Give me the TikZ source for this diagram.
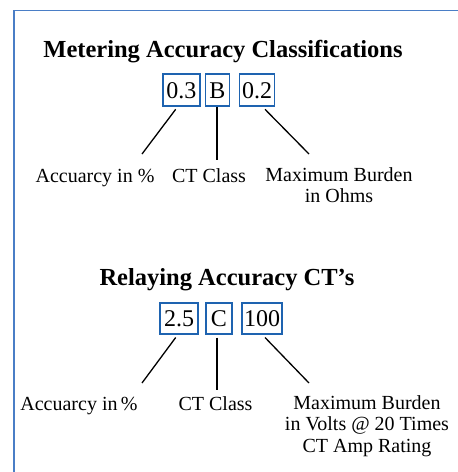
\documentclass[tikz,border=0pt]{standalone}
\usepackage{fontspec}
\setmainfont{Liberation Serif}
\definecolor{framec}{HTML}{4A7EC6}
\definecolor{boxc}{HTML}{1E63B0}
\begin{document}
\begin{tikzpicture}[x=1pt,y=-1pt,
  valbox/.style={draw=boxc,line width=1.6pt,inner sep=0pt,minimum height=32pt,
     font=\fontsize{24}{24}\selectfont,text depth=0pt,text height=16.2pt},
  title/.style={font=\fontsize{24.5}{26}\bfseries\selectfont,anchor=base,inner sep=0pt},
  lab/.style={font=\fontsize{20}{21}\selectfont,anchor=base,inner sep=0pt,align=center},
  conn/.style={line width=1.3pt}]
\useasboundingbox (0,0) rectangle (458,472);
\clip (0,0) rectangle (458,472);
\draw[framec,line width=1.2pt] (14,10.5) rectangle (480,490);
% Metering
\node[title] (t1) at (223,57) {Metering Accuracy Classifications};
\node[valbox,minimum width=37pt] (a1) at (181.3,90) {0.3};
\node[valbox,minimum width=24pt] (a2) at (217.4,90) {B};
\node[valbox,minimum width=35pt] (a3) at (257,90) {0.2};
\coordinate (e1) at (142,154);
\coordinate (e2) at (217,160);
\coordinate (e3) at (309,154);
\draw[conn] ([xshift=-5.6pt,yshift=-2.5pt]a1.south) -- (e1);
\draw[conn] ([xshift=-0.4pt]a2.south) -- (e2);
\draw[conn] ([xshift=8pt,yshift=-2.5pt]a3.south) -- (e3);
\node[lab] (l1) at (95,182) {Accuarcy in \%};
\node[lab] (l2) at (209,182) {CT Class};
\node[lab,anchor=north] (l3) at (339,167.5) {Maximum Burden\\in Ohms};
% Relaying
\node[title] (t2) at (227,285) {Relaying Accuracy CT’s};
\node[valbox,minimum width=38.4pt,minimum height=31.4pt] (b1) at (179,318.5) {2.5};
\node[valbox,minimum width=26.4pt,minimum height=31.4pt] (b2) at (219,318.5) {C};
\node[valbox,minimum width=40.4pt,minimum height=31.4pt] (b3) at (262,318.5) {100};
\coordinate (f1) at (142,383);
\coordinate (f2) at (217,390);
\coordinate (f3) at (309,383);
\draw[conn] ([xshift=-3.3pt,yshift=-2.5pt]b1.south) -- (f1);
\draw[conn] ([xshift=-2pt,yshift=-2.5pt]b2.south) -- (f2);
\draw[conn] ([xshift=3pt,yshift=-2.5pt]b3.south) -- (f3);
\node[lab] (m1) at (79,410) {Accuarcy in\,\%};
\node[lab] (m2) at (215.5,410) {CT Class};
\node[lab,anchor=north,font=\fontsize{20}{21.3}\selectfont] (m3) at (367,395.5) {Maximum Burden\\in Volts @ 20 Times\\CT Amp Rating};
\end{tikzpicture}
\end{document}
